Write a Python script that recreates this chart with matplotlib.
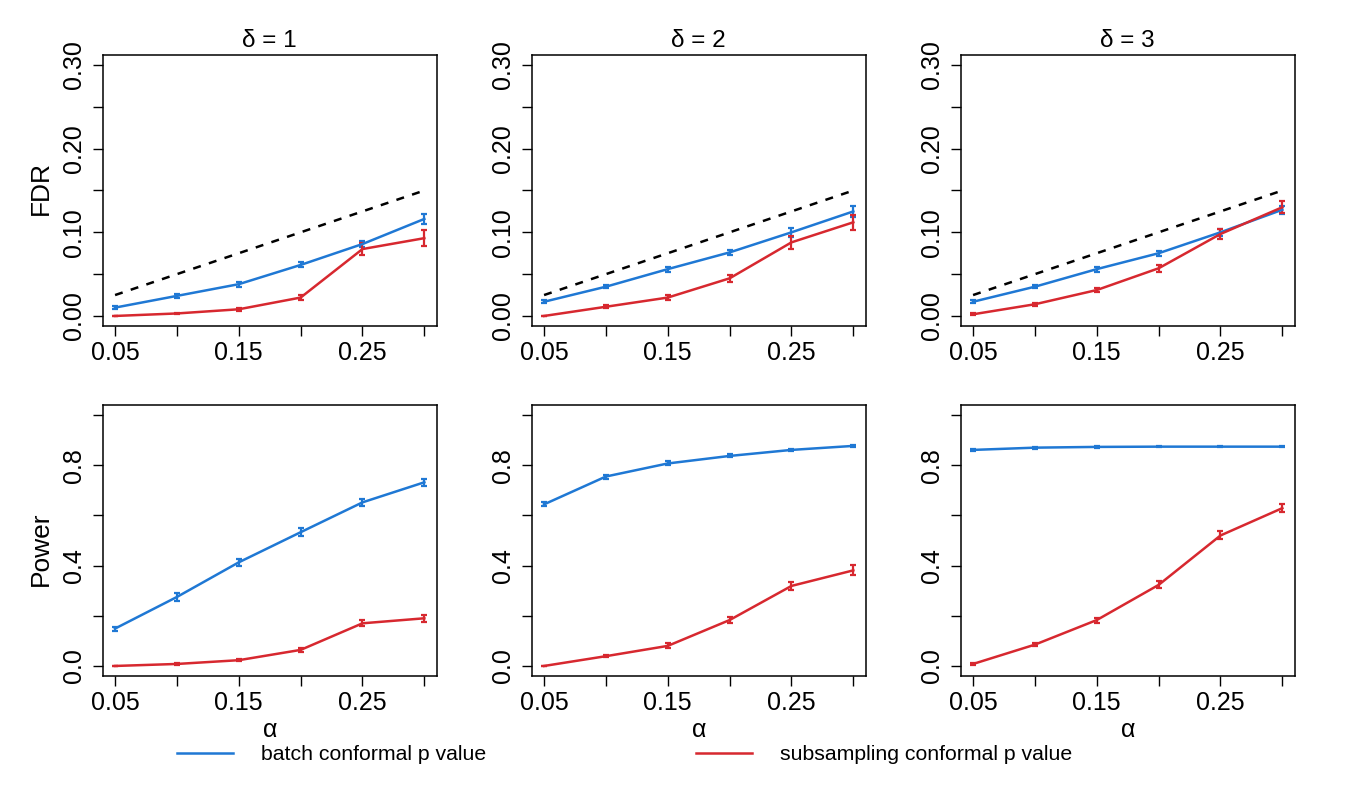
import numpy as np
import matplotlib
matplotlib.use("Agg")
import matplotlib.pyplot as plt
from matplotlib.lines import Line2D

plt.rcParams["font.family"] = ["Liberation Sans", "DejaVu Sans"]

# ---- data ----
alpha = [0.05, 0.10, 0.15, 0.20, 0.25, 0.30]
deltas = [1, 2, 3]

fdr_batch = [
    [0.010, 0.024, 0.038, 0.061, 0.086, 0.116],
    [0.017, 0.035, 0.056, 0.076, 0.100, 0.125],
    [0.017, 0.035, 0.056, 0.075, 0.100, 0.127],
]
fdr_batch_err = [
    [0.002, 0.002, 0.003, 0.003, 0.004, 0.006],
    [0.002, 0.002, 0.003, 0.003, 0.005, 0.007],
    [0.002, 0.002, 0.003, 0.003, 0.004, 0.005],
]
fdr_sub = [
    [0.000, 0.003, 0.008, 0.022, 0.080, 0.093],
    [0.000, 0.011, 0.022, 0.045, 0.088, 0.112],
    [0.002, 0.014, 0.031, 0.057, 0.098, 0.130],
]
fdr_sub_err = [
    [0.000, 0.001, 0.002, 0.003, 0.0075, 0.0095],
    [0.000, 0.002, 0.003, 0.004, 0.0075, 0.009],
    [0.001, 0.002, 0.002, 0.004, 0.0065, 0.007],
]

pow_batch = [
    [0.149, 0.275, 0.413, 0.533, 0.652, 0.732],
    [0.644, 0.755, 0.807, 0.837, 0.861, 0.877],
    [0.861, 0.870, 0.873, 0.874, 0.874, 0.874],
]
pow_batch_err = [
    [0.008, 0.015, 0.015, 0.015, 0.015, 0.013],
    [0.008, 0.008, 0.008, 0.006, 0.005, 0.004],
    [0.005, 0.004, 0.004, 0.003, 0.003, 0.003],
]
pow_sub = [
    [0.000, 0.008, 0.023, 0.064, 0.170, 0.190],
    [0.000, 0.039, 0.080, 0.183, 0.319, 0.381],
    [0.008, 0.085, 0.183, 0.323, 0.520, 0.629],
]
pow_sub_err = [
    [0.000, 0.003, 0.005, 0.008, 0.012, 0.013],
    [0.000, 0.005, 0.010, 0.013, 0.015, 0.020],
    [0.003, 0.006, 0.010, 0.014, 0.016, 0.017],
]

x_ticks = [0.05, 0.10, 0.15, 0.20, 0.25, 0.30]
x_ticklabels = ["0.05", "", "0.15", "", "0.25", ""]
fdr_ticks = [0.0, 0.05, 0.10, 0.15, 0.20, 0.25, 0.30]
fdr_ticklabels = ["0.00", "", "0.10", "", "0.20", "", "0.30"]
pow_ticks = [0.0, 0.2, 0.4, 0.6, 0.8, 1.0]
pow_ticklabels = ["0.0", "", "0.4", "", "0.8", ""]

BLUE = "#1F78D4"
RED = "#D7282F"

fig = plt.figure(figsize=(13.5, 7.87), dpi=100)

lefts = [102.7, 531.7, 960.7]
W, H = 1350.0, 787.0
aw = 334.0 / W
ah = 271.0 / H
tops = [55.0, 405.0]


def style_axes(ax, yticks, yticklabels, ylim):
    ax.set_xlim(0.04, 0.31)
    ax.set_ylim(*ylim)
    ax.set_xticks(x_ticks)
    ax.set_xticklabels(x_ticklabels)
    ax.set_yticks(yticks)
    ax.set_yticklabels(yticklabels, rotation=90, va="center")
    ax.tick_params(direction="out", length=7, width=1, labelsize=18)
    ax.tick_params(axis="x", pad=4)
    ax.tick_params(axis="y", pad=5)
    for sp in ax.spines.values():
        sp.set_linewidth(1.1)


def draw_series(ax, y, err, color):
    ax.errorbar(alpha, y, yerr=err, color=color, lw=1.8, elinewidth=1.6,
                capsize=2.5, capthick=1.6)


for j in range(3):
    # FDR row
    ax = fig.add_axes([lefts[j] / W, (H - tops[0]) / H - ah, aw, ah])
    ax.plot(alpha, [a / 2 for a in alpha], color="black", lw=1.8,
            dashes=(3.2, 3.4))
    draw_series(ax, fdr_batch[j], fdr_batch_err[j], BLUE)
    draw_series(ax, fdr_sub[j], fdr_sub_err[j], RED)
    style_axes(ax, fdr_ticks, fdr_ticklabels, (-0.012, 0.312))
    ax.set_title(f"δ = {deltas[j]}", fontsize=17.5, pad=6)
    if j == 0:
        ax.set_ylabel("FDR", fontsize=19)
        ax.yaxis.set_label_coords(-0.149, 0.51)

    # Power row
    ax = fig.add_axes([lefts[j] / W, (H - tops[1]) / H - ah, aw, ah])
    draw_series(ax, pow_batch[j], pow_batch_err[j], BLUE)
    draw_series(ax, pow_sub[j], pow_sub_err[j], RED)
    style_axes(ax, pow_ticks, pow_ticklabels, (-0.04, 1.04))
    ax.set_xlabel("α", fontsize=18)
    ax.xaxis.set_label_coords(0.5, -0.155)
    if j == 0:
        ax.set_ylabel("Power", fontsize=19)
        ax.yaxis.set_label_coords(-0.149, 0.47)

# legend below the panels
h_batch = Line2D([], [], color=BLUE, lw=1.8)
h_sub = Line2D([], [], color=RED, lw=1.8)
fig.legend([h_batch], ["batch conformal p value"], loc="center left",
           bbox_to_anchor=(177 / W, 1 - 755 / H), frameon=False,
           fontsize=15.3, handlelength=2.64, handletextpad=1.3, borderpad=0,
           borderaxespad=0)
fig.legend([h_sub], ["subsampling conformal p value"], loc="center left",
           bbox_to_anchor=(696 / W, 1 - 755 / H), frameon=False,
           fontsize=15.3, handlelength=2.64, handletextpad=1.3, borderpad=0,
           borderaxespad=0)

fig.savefig("out.png", dpi=100, facecolor="white")
